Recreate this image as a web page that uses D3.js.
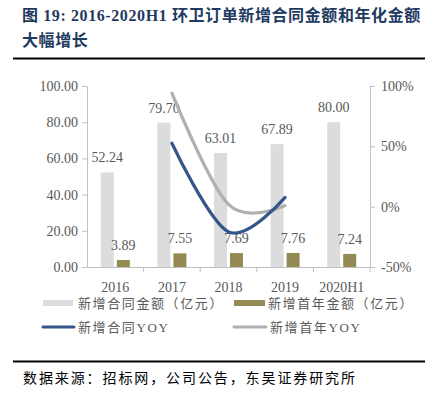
<!DOCTYPE html>
<html>
<head>
<meta charset="utf-8">
<script src="https://cdn.jsdelivr.net/npm/d3@7/dist/d3.min.js"></script>
<style>
  body { margin: 0; background: #fff; }
  svg { display: block; }
</style>
</head>
<body>
<div id="chart"></div>
<script>
// chart values
var years = ['2016', '2017', '2018', '2019', '2020H1'];
var contractAmt = [52.24, 79.70, 63.01, 67.89, 80.00];   // 新增合同金额（亿元）
var firstYearAmt = [3.89, 7.55, 7.69, 7.76, 7.24];      // 新增首年金额（亿元）
var contractYoy = [null, 52.6, -20.9, 7.7, null];       // 新增合同YOY (%)
var firstYearYoy = [null, 94.1, 1.9, 0.9, null];        // 新增首年YOY (%)
var leftTicks = [0, 20, 40, 60, 80, 100];
var rightTicks = [-50, 0, 50, 100];

var W = 433, H = 395;
var serif = '"Liberation Serif", "Times New Roman", "Noto Sans CJK SC", serif';
var svg = d3.select('#chart').append('svg').attr('width', W).attr('height', H);

// title
var title = svg.append('g').attr('font-family', serif).attr('font-weight', 'bold')
  .attr('fill', '#1f3a5f').attr('font-size', 16);
title.append('text').attr('x', 22).attr('y', 21).attr('letter-spacing', 0.6)
  .text('图 19:  2016-2020H1 环卫订单新增合同金额和年化金额');
title.append('text').attr('x', 22).attr('y', 46).attr('letter-spacing', 0.6).text('大幅增长');
svg.append('line').attr('x1', 13).attr('x2', 425).attr('y1', 58.5).attr('y2', 58.5)
  .attr('stroke', '#000').attr('stroke-width', 2);

// scales
var x = d3.scaleBand().domain(years).range([87, 370]);
var yL = d3.scaleLinear().domain([0, 100]).range([267, 86]);
var yR = d3.scaleLinear().domain([-50, 100]).range([267, 86]);
var axisColor = '#bfbfbf', textColor = '#595959';

// axes
var gL = svg.append('g').attr('transform', 'translate(87,0)')
  .call(d3.axisLeft(yL).tickValues(leftTicks).tickSize(5).tickPadding(4).tickFormat(d3.format('.2f')));
var gR = svg.append('g').attr('transform', 'translate(370,0)')
  .call(d3.axisRight(yR).tickValues(rightTicks).tickSize(5).tickPadding(6).tickFormat(function(d){ return d + '%'; }));
var gX = svg.append('g').attr('transform', 'translate(0,267)')
  .call(d3.axisBottom(x).tickSize(0).tickPadding(15));
[gL, gR, gX].forEach(function(g) {
  g.select('.domain').attr('stroke', axisColor);
  g.selectAll('.tick line').attr('stroke', axisColor);
  g.selectAll('text').attr('fill', textColor).attr('font-family', serif).attr('font-size', 14);
});
// category separators on x axis
svg.append('g').selectAll('line')
  .data(years.slice(1).concat(['end']))
  .join('line')
  .attr('x1', function(d, i) { return x(years[i]) + x.bandwidth(); })
  .attr('x2', function(d, i) { return x(years[i]) + x.bandwidth(); })
  .attr('y1', 267).attr('y2', 272)
  .attr('stroke', axisColor);

// bars
var bw = 13;
svg.append('g').selectAll('rect').data(contractAmt).join('rect')
  .attr('x', function(d, i) { return x(years[i]) + x.bandwidth() / 2 - bw - 1.5; })
  .attr('y', function(d) { return yL(d); })
  .attr('width', bw).attr('height', function(d) { return yL(0) - yL(d); })
  .attr('fill', '#dcdcdc');
svg.append('g').selectAll('rect').data(firstYearAmt).join('rect')
  .attr('x', function(d, i) { return x(years[i]) + x.bandwidth() / 2 + 1.5; })
  .attr('y', function(d) { return yL(d); })
  .attr('width', bw).attr('height', function(d) { return yL(0) - yL(d); })
  .attr('fill', '#948a54');

// bar labels
var labels = svg.append('g').attr('font-family', serif).attr('font-size', 14)
  .attr('fill', textColor).attr('text-anchor', 'middle');
labels.selectAll('.lc').data(contractAmt).join('text').attr('class', 'lc')
  .attr('x', function(d, i) { return x(years[i]) + x.bandwidth() / 2 - bw / 2 - 1.5; })
  .attr('y', function(d) { return yL(d) - 10; })
  .text(function(d) { return d.toFixed(2); });
labels.selectAll('.lf').data(firstYearAmt).join('text').attr('class', 'lf')
  .attr('x', function(d, i) { return x(years[i]) + x.bandwidth() / 2 + bw / 2 + 1.5; })
  .attr('y', function(d) { return yL(d) - 10; })
  .text(function(d) { return d.toFixed(2); });

// YOY lines
var line = d3.line()
  .defined(function(d) { return d != null; })
  .x(function(d, i) { return x(years[i]) + x.bandwidth() / 2; })
  .y(function(d) { return yR(d); })
  .curve(d3.curveCardinal.tension(0));
svg.append('path').datum(firstYearYoy).attr('d', line)
  .attr('fill', 'none').attr('stroke', '#b0b0b0').attr('stroke-width', 3.2).attr('stroke-linecap', 'round');
svg.append('path').datum(contractYoy).attr('d', line)
  .attr('fill', 'none').attr('stroke', '#34568b').attr('stroke-width', 3.2).attr('stroke-linecap', 'round');

// legend
var legend = svg.append('g').attr('font-family', serif).attr('font-size', 13)
  .attr('fill', textColor).attr('letter-spacing', 1.6);
legend.append('rect').attr('x', 43).attr('y', 300).attr('width', 30).attr('height', 6).attr('fill', '#dcdcdc');
legend.append('text').attr('x', 78).attr('y', 307.5).text('新增合同金额（亿元）');
legend.append('rect').attr('x', 234).attr('y', 300).attr('width', 31).attr('height', 6).attr('fill', '#948a54');
legend.append('text').attr('x', 268).attr('y', 307.5).text('新增首年金额（亿元）');
legend.append('line').attr('x1', 43).attr('x2', 74).attr('y1', 327).attr('y2', 327)
  .attr('stroke', '#34568b').attr('stroke-width', 3).attr('stroke-linecap', 'round');
legend.append('text').attr('x', 78).attr('y', 332).text('新增合同YOY');
legend.append('line').attr('x1', 234).attr('x2', 266).attr('y1', 327).attr('y2', 327)
  .attr('stroke', '#b0b0b0').attr('stroke-width', 3).attr('stroke-linecap', 'round');
legend.append('text').attr('x', 270).attr('y', 332).text('新增首年YOY');

// footer
svg.append('line').attr('x1', 13).attr('x2', 425).attr('y1', 361.5).attr('y2', 361.5)
  .attr('stroke', '#000').attr('stroke-width', 2);
svg.append('text').attr('x', 23).attr('y', 383).attr('font-family', serif).attr('font-size', 14)
  .attr('letter-spacing', 1.9).attr('fill', '#000')
  .text('数据来源：招标网，公司公告，东吴证券研究所');
</script>
</body>
</html>
